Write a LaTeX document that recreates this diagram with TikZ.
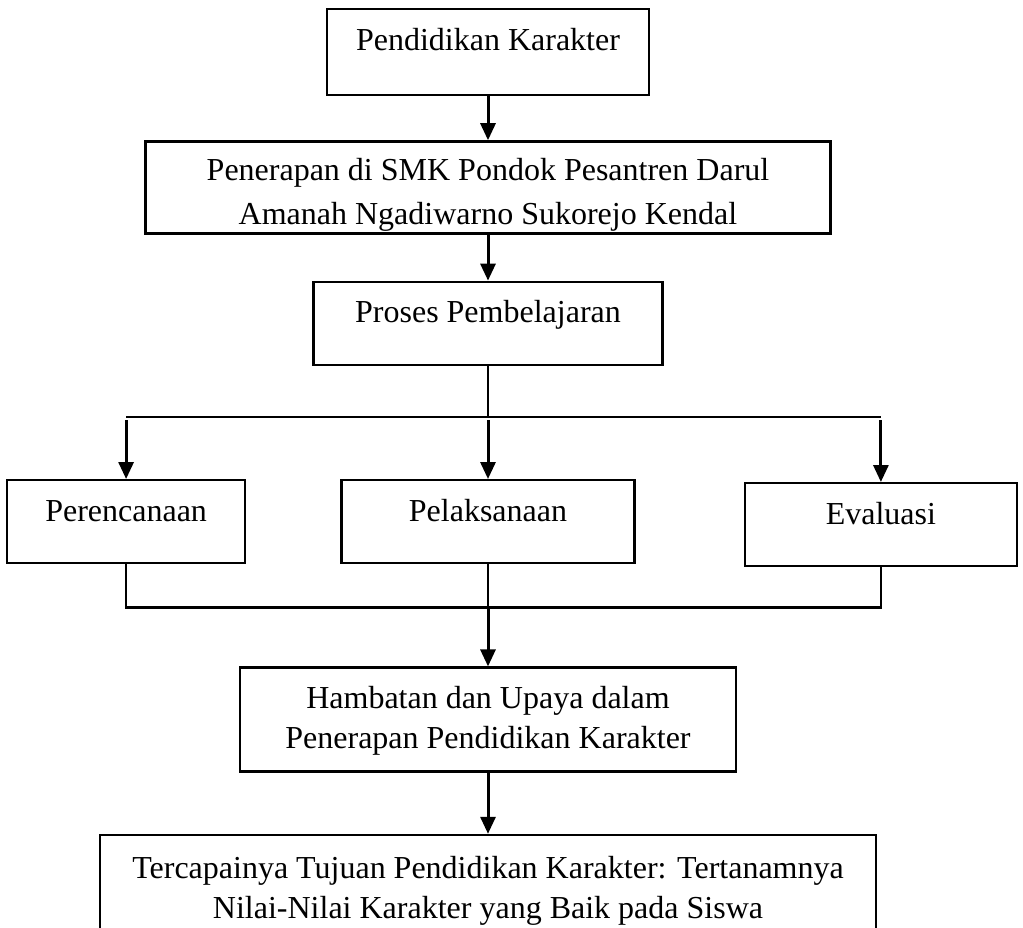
\documentclass[tikz,border=0pt]{standalone}
\usepackage{fontspec}
\setmainfont{Liberation Serif}
\usetikzlibrary{arrows.meta, positioning}

\begin{document}
\begin{tikzpicture}[x=1pt, y=1pt,
	box/.style={draw, line width=2.4pt, inner sep=0pt, align=center,
		font=\fontsize{32}{40}\selectfont},
	link/.style={line width=2.2pt},
	arr/.style={-{Triangle[width=15pt, length=17pt]}, line width=3pt}]

	\useasboundingbox (0,0) rectangle (1023,-927);

	\node[box, minimum width=322pt, text height=41pt, text depth=45pt, anchor=base] (pk) at (488,-50) {Pendidikan Karakter};
	\node[box, minimum width=685pt, text height=83pt, text depth=9pt, below=44pt of pk,
		font=\fontsize{32}{44}\selectfont] (pp) {Penerapan di SMK Pondok Pesantren Darul\\Amanah Ngadiwarno Sukorejo Kendal};
	\node[box, minimum width=349pt, text height=41pt, text depth=42pt, below=46pt of pp] (pc) {Proses Pembelajaran};
	\node[box, minimum width=293pt, text height=41pt, text depth=42pt, below=113pt of pc] (pl) {Pelaksanaan};
	\node[box, minimum width=238pt, text height=41pt, text depth=42pt, left=94pt of pl] (pr) {Perencanaan};
	\node[box, minimum width=272pt, text height=41pt, text depth=42pt, right=108pt of pl, yshift=-3pt] (ev) {Evaluasi};
	\node[box, minimum width=496pt, text height=81pt, text depth=23pt, below=102pt of pl] (hb) {Hambatan dan Upaya dalam\\Penerapan Pendidikan Karakter};
	\node[box, minimum width=776pt, text height=83pt, text depth=32pt, below=61pt of hb] (tc) {Tercapainya Tujuan Pendidikan Karakter: Tertanamnya\\Nilai-Nilai Karakter yang Baik pada Siswa};

	\coordinate[below=51pt of pc] (bus1);
	\coordinate[below=43pt of pr] (bus2);

	\draw[arr] (pk) -- (pp);
	\draw[arr] (pp) -- (pc);

	% bercabang ke tiga tahap
	\draw[line width=1.6pt] (pc) -- (bus1);
	\draw[link] (pr.north |- bus1) -- (ev.north |- bus1);
	\foreach \n in {pr, pl, ev}
		\draw[arr, shorten <=3pt] (\n.north |- bus1) -- (\n);

	% digabung lagi
	\draw[link] (pr) -- (bus2) -| (ev);
	\draw[line width=1.6pt] (pl) -- (pl |- bus2);
	\draw[arr] (pl |- bus2) -- (hb);
	\draw[arr] (hb) -- (tc);

\end{tikzpicture}
\end{document}
